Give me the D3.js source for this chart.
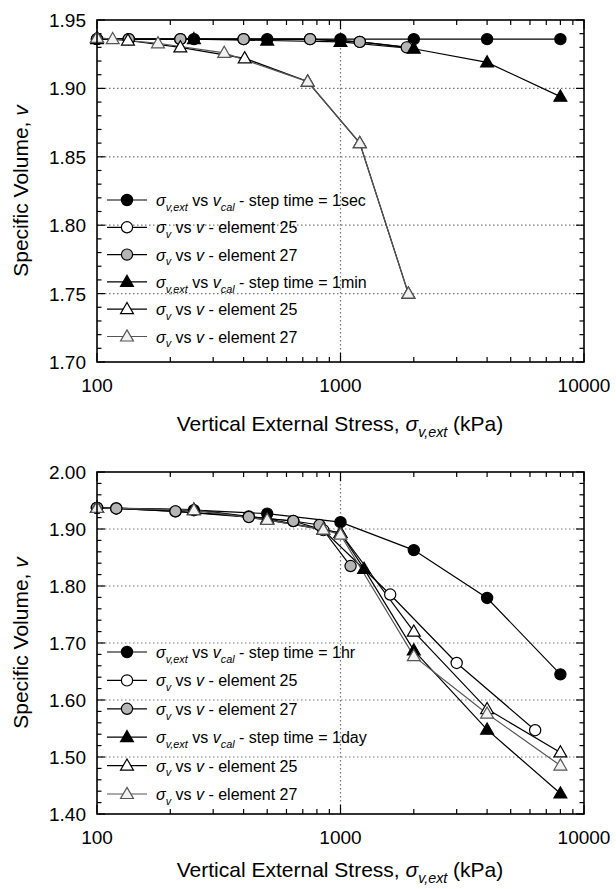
<!DOCTYPE html>
<html lang="en">
<head>
<meta charset="UTF-8">
<title>Specific Volume vs Vertical External Stress</title>
<script src="https://cdnjs.cloudflare.com/ajax/libs/d3/7.8.5/d3.min.js"></script>
<style>
  body { margin: 0; background: #fff; }
  svg { display: block; font-family: "Liberation Sans", Arial, sans-serif; }
  .grid { stroke: #777; stroke-width: 1.2; stroke-dasharray: 1.5,2.5; fill: none; }
  .tick { stroke: #000; stroke-width: 1.2; }
  .frame { fill: none; stroke: #000; stroke-width: 1.6; }
  .series { fill: none; stroke-width: 1.2; }
</style>
</head>
<body>
<svg id="chart" width="616" height="889"></svg>
<script>
// ---- top panel: step time 1sec / 1min ----
const secExtX = [100, 250, 500, 1000, 2000, 4000, 8000];
const secExtV = [1.936, 1.936, 1.936, 1.936, 1.936, 1.936, 1.936];
const secE25X = [100, 135, 220, 400, 750, 1200, 1900];
const secE25V = [1.936, 1.936, 1.936, 1.936, 1.936, 1.934, 1.930];
const secE27X = [100, 135, 220, 400, 750, 1200, 1870];
const secE27V = [1.936, 1.936, 1.936, 1.936, 1.936, 1.934, 1.930];
const minExtX = [100, 250, 500, 1000, 2000, 4000, 8000];
const minExtV = [1.936, 1.936, 1.935, 1.934, 1.929, 1.919, 1.894];
const minE25X = [100, 134, 220, 404, 733, 1200, 1900];
const minE25V = [1.937, 1.935, 1.930, 1.922, 1.905, 1.860, 1.750];
const minE27X = [100, 116, 178, 333, 733, 1200, 1900];
const minE27V = [1.937, 1.936, 1.933, 1.926, 1.905, 1.860, 1.750];

// ---- bottom panel: step time 1hr / 1day ----
const hrExtX = [100, 250, 500, 1000, 2000, 4000, 8000];
const hrExtV = [1.937, 1.933, 1.927, 1.912, 1.863, 1.779, 1.645];
const hrE25X = [100, 120, 210, 420, 640, 850, 1600, 3000, 6300];
const hrE25V = [1.937, 1.936, 1.931, 1.922, 1.914, 1.898, 1.785, 1.665, 1.547];
const hrE27X = [100, 120, 210, 420, 640, 820, 1100];
const hrE27V = [1.937, 1.936, 1.931, 1.921, 1.914, 1.907, 1.835];
const dayExtX = [100, 250, 500, 1000, 1250, 2000, 4000, 8000];
const dayExtV = [1.937, 1.934, 1.918, 1.893, 1.830, 1.687, 1.548, 1.436];
const dayE25X = [100, 250, 500, 850, 1000, 2000, 4000, 8000];
const dayE25V = [1.937, 1.933, 1.916, 1.899, 1.893, 1.720, 1.584, 1.508];
const dayE27X = [100, 250, 500, 850, 1000, 2000, 4000, 8000];
const dayE27V = [1.937, 1.933, 1.916, 1.899, 1.890, 1.677, 1.576, 1.485];

const xTickLabels = [100, 1000, 10000];
const topYTicks = [1.70, 1.75, 1.80, 1.85, 1.90, 1.95];
const botYTicks = [1.40, 1.50, 1.60, 1.70, 1.80, 1.90, 2.00];

const extLabel = t => [["σ", "i"], ["v,ext", "is"], [" vs "], ["v", "i"], ["cal", "is"], [" - step time = " + t]];
const elLabel = n => [["σ", "i"], ["v", "is"], [" vs "], ["v", "i"], ["  - element " + n]];

// marker styles
const styles = {
  extC: { shape: "circle", fill: "#000", stroke: "#000", line: "#000" },
  e25C: { shape: "circle", fill: "#fff", stroke: "#000", line: "#000" },
  e27C: { shape: "circle", fill: "#b5b5b5", stroke: "#000", line: "#000" },
  extT: { shape: "tri", fill: "#000", stroke: "#000", line: "#000" },
  e25T: { shape: "tri", fill: "#fff", stroke: "#000", line: "#000" },
  e27T: { shape: "tri", fill: "#f2f2f2", stroke: "#555", line: "#555" }
};

const svg = d3.select("#chart");

function richText(g, x, y, parts, size, anchor) {
  const t = g.append("text").attr("x", x).attr("y", y)
    .attr("font-size", size).attr("text-anchor", anchor || "start").attr("fill", "#000");
  let shifted = false;
  parts.forEach(([s, f]) => {
    const sp = t.append("tspan").text(s);
    if (f && f.includes("i")) sp.attr("font-style", "italic");
    const sub = f && f.includes("s");
    if (sub && !shifted) { sp.attr("dy", size * 0.3).attr("font-size", size * 0.68); shifted = true; }
    else if (sub) sp.attr("font-size", size * 0.68);
    else if (shifted) { sp.attr("dy", -size * 0.3); shifted = false; }
  });
  return t;
}

function drawMarker(g, cx, cy, st) {
  if (st.shape === "circle") {
    g.append("circle").attr("cx", cx).attr("cy", cy).attr("r", 5.6)
      .attr("fill", st.fill).attr("stroke", st.stroke).attr("stroke-width", 1.2);
  } else {
    g.append("path").attr("d", d3.symbol(d3.symbolTriangle, 72)())
      .attr("transform", `translate(${cx},${cy + 0.8})`)
      .attr("fill", st.fill).attr("stroke", st.stroke).attr("stroke-width", 1.2);
  }
}

function panel(cfg) {
  const x = d3.scaleLog().domain([100, 10000]).range([97, 584]);
  const y = d3.scaleLinear().domain(cfg.yDomain).range([cfg.bottom, cfg.top]);
  const g = svg.append("g");
  const [x0, x1] = x.range();

  // gridlines
  cfg.yTicks.slice(1, -1).forEach(v => {
    g.append("line").attr("class", "grid").attr("x1", x0).attr("x2", x1).attr("y1", y(v)).attr("y2", y(v));
  });
  g.append("line").attr("class", "grid").attr("x1", x(1000)).attr("x2", x(1000)).attr("y1", cfg.top).attr("y2", cfg.bottom);

  // y ticks (major + minor) inward on both sides
  const yMinor = d3.range(0, Math.round((cfg.yDomain[1] - cfg.yDomain[0]) / cfg.yMinor) + 1)
    .map(i => cfg.yDomain[0] + i * cfg.yMinor);
  yMinor.forEach(v => {
    const major = cfg.yTicks.some(t => Math.abs(t - v) < 1e-6);
    const len = major ? 8 : 4.5;
    g.append("line").attr("class", "tick").attr("x1", x0).attr("x2", x0 + len).attr("y1", y(v)).attr("y2", y(v));
    g.append("line").attr("class", "tick").attr("x1", x1).attr("x2", x1 - len).attr("y1", y(v)).attr("y2", y(v));
  });
  // x ticks (log) inward top and bottom
  const xt = [];
  [100, 1000].forEach(d => d3.range(1, 10).forEach(k => xt.push(d * k)));
  xt.push(10000);
  xt.forEach(v => {
    const major = xTickLabels.includes(v);
    const len = major ? 9 : 5;
    g.append("line").attr("class", "tick").attr("x1", x(v)).attr("x2", x(v)).attr("y1", cfg.bottom).attr("y2", cfg.bottom - len);
    g.append("line").attr("class", "tick").attr("x1", x(v)).attr("x2", x(v)).attr("y1", cfg.top).attr("y2", cfg.top + len);
  });

  // tick labels
  cfg.yTicks.forEach(v => {
    g.append("text").attr("x", 86).attr("y", y(v) + 7).attr("text-anchor", "end")
      .attr("font-size", 19).text(v.toFixed(2));
  });
  xTickLabels.forEach(v => {
    g.append("text").attr("x", x(v)).attr("y", cfg.bottom + 30).attr("text-anchor", "middle")
      .attr("font-size", 19).text(v);
  });

  // axis titles
  richText(g, 340, cfg.bottom + cfg.titleGap, [["Vertical External Stress, "], ["σ", "i"], ["v,ext", "is"], [" (kPa)"]], 21, "middle");
  const yt = richText(g, 0, 0, [["Specific Volume, "], ["v", "i"]], 21, "middle");
  yt.attr("transform", `translate(28,${(cfg.top + cfg.bottom) / 2}) rotate(-90)`);

  // series
  const line = d3.line().x(d => x(d[0])).y(d => y(d[1]));
  cfg.series.forEach(s => {
    const pts = s.xs.map((v, i) => [v, s.vs[i]]);
    g.append("path").attr("class", "series").attr("d", line(pts)).attr("stroke", s.st.line);
  });
  cfg.series.forEach(s => {
    s.xs.forEach((v, i) => drawMarker(g, x(v), y(s.vs[i]), s.st));
  });

  g.append("rect").attr("class", "frame").attr("x", x0).attr("y", cfg.top)
    .attr("width", x1 - x0).attr("height", cfg.bottom - cfg.top);

  // legend
  cfg.series.forEach((s, i) => {
    const ly = cfg.legendY + i * cfg.legendStep;
    g.append("line").attr("x1", 107).attr("x2", 147).attr("y1", ly).attr("y2", ly)
      .attr("stroke", s.st.line).attr("stroke-width", 1.2);
    drawMarker(g, 127, ly, s.st);
    richText(g, 156, ly + 6, s.label, 16, "start");
  });
}

panel({
  top: 20, bottom: 362, yDomain: [1.70, 1.95], yTicks: topYTicks, yMinor: 0.01,
  legendY: 200, legendStep: 27.3, titleGap: 69,
  series: [
    { xs: secExtX, vs: secExtV, st: styles.extC, label: extLabel("1sec") },
    { xs: secE25X, vs: secE25V, st: styles.e25C, label: elLabel(25) },
    { xs: secE27X, vs: secE27V, st: styles.e27C, label: elLabel(27) },
    { xs: minExtX, vs: minExtV, st: styles.extT, label: extLabel("1min") },
    { xs: minE25X, vs: minE25V, st: styles.e25T, label: elLabel(25) },
    { xs: minE27X, vs: minE27V, st: styles.e27T, label: elLabel(27) }
  ]
});

panel({
  top: 472, bottom: 814, yDomain: [1.40, 2.00], yTicks: botYTicks, yMinor: 0.02,
  legendY: 652, legendStep: 28.4, titleGap: 63,
  series: [
    { xs: hrExtX, vs: hrExtV, st: styles.extC, label: extLabel("1hr") },
    { xs: hrE25X, vs: hrE25V, st: styles.e25C, label: elLabel(25) },
    { xs: hrE27X, vs: hrE27V, st: styles.e27C, label: elLabel(27) },
    { xs: dayExtX, vs: dayExtV, st: styles.extT, label: extLabel("1day") },
    { xs: dayE25X, vs: dayE25V, st: styles.e25T, label: elLabel(25) },
    { xs: dayE27X, vs: dayE27V, st: styles.e27T, label: elLabel(27) }
  ]
});
</script>
</body>
</html>
